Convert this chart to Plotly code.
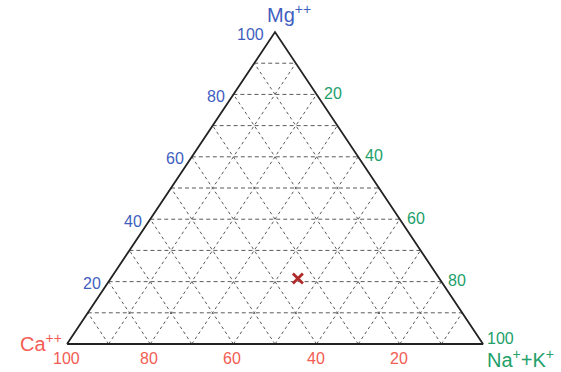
import plotly.graph_objects as go

# sample composition (percent of cations)
sample_ca = [34]
sample_mg = [21]
sample_nak = [45]

grid_steps = [10, 20, 30, 40, 50, 60, 70, 80, 90]
tick_values = [20, 40, 60, 80, 100]

BLUE = "#3f5fc0"
GREEN = "#22a06a"
RED = "#f25c54"
FONT = "Liberation Sans, Arial, sans-serif"


def to_xy(ca, mg, nak):
    s = ca + mg + nak
    return 100 * (nak + mg / 2) / s, 100 * mg / s


def segments(pairs):
    xs, ys = [], []
    for a, b in pairs:
        xa, ya = to_xy(*a)
        xb, yb = to_xy(*b)
        xs += [xa, xb, None]
        ys += [ya, yb, None]
    return xs, ys


fig = go.Figure()

# horizontal lines (constant Mg)
hx, hy = segments([((100 - v, v, 0), (0, v, 100 - v)) for v in grid_steps])
fig.add_trace(go.Scatter(x=hx, y=hy, mode="lines", hoverinfo="skip",
                         line=dict(color="#5a5a5a", width=1, dash="4px,3px")))

# lines of constant Na+K and constant Ca
dx1, dy1 = segments([((100 - v, 0, v), (0, 100 - v, v)) for v in grid_steps])
dx2, dy2 = segments([((v, 0, 100 - v), (v, 100 - v, 0)) for v in grid_steps])
fig.add_trace(go.Scatter(x=dx1 + dx2, y=dy1 + dy2, mode="lines", hoverinfo="skip",
                         line=dict(color="#5a5a5a", width=1, dash="3px,3px")))

# outline
ox, oy = zip(*[to_xy(*c) for c in [(100, 0, 0), (0, 100, 0), (0, 0, 100), (100, 0, 0)]])
fig.add_trace(go.Scatter(x=list(ox), y=list(oy), mode="lines", hoverinfo="skip",
                         line=dict(color="#222222", width=1.8)))

# sample point
sx, sy = zip(*[to_xy(c, m, n) for c, m, n in zip(sample_ca, sample_mg, sample_nak)])
fig.add_trace(go.Scatter(x=list(sx), y=list(sy), mode="markers",
                         marker=dict(symbol="x-thin", size=10, color="#b02a2a",
                                     line=dict(width=2.8, color="#b02a2a"))))

annotations = []
for t in tick_values:
    x, y = to_xy(100 - t, t, 0)
    annotations.append(dict(x=x, y=y, text=str(t), xanchor="right", yanchor="middle",
                            xshift=-6 if t < 100 else -9, yshift=-2,
                            font=dict(color=BLUE, size=16)))
    x, y = to_xy(0, 100 - t, t)
    annotations.append(dict(x=x, y=y, text=str(t), xanchor="left", yanchor="middle",
                            xshift=5 if t < 100 else 2, yshift=1 if t < 100 else 6,
                            font=dict(color=GREEN, size=16)))
    x, y = to_xy(t, 0, 100 - t)
    annotations.append(dict(x=x, y=y, text=str(t), xanchor="center", yanchor="top",
                            xshift=-1, yshift=-4, font=dict(color=RED, size=16)))

x, y = to_xy(0, 100, 0)
annotations.append(dict(x=x, y=y, text="Mg<sup>++</sup>", xanchor="center", yanchor="bottom",
                        xshift=14, yshift=4, font=dict(color=BLUE, size=20)))
x, y = to_xy(100, 0, 0)
annotations.append(dict(x=x, y=y, text="Ca<sup>++</sup>", xanchor="right", yanchor="middle",
                        xshift=-3, yshift=2, font=dict(color=RED, size=20)))
x, y = to_xy(0, 0, 100)
annotations.append(dict(x=x, y=y, text="Na<sup>+</sup>+K<sup>+</sup>", xanchor="left",
                        yanchor="top", xshift=2, yshift=0, font=dict(color=GREEN, size=20)))

for a in annotations:
    a.update(xref="x", yref="y", showarrow=False)

fig.update_layout(
    width=561, height=372, autosize=False,
    margin=dict(l=0, r=0, t=0, b=0),
    paper_bgcolor="white", plot_bgcolor="white",
    showlegend=False,
    font=dict(family=FONT),
    annotations=annotations,
    xaxis=dict(range=[-16.11, 118.75], visible=False, fixedrange=True),
    yaxis=dict(range=[-8.97, 110.26], visible=False, fixedrange=True),
)

# drop the page's default body margin so the figure fills the window
fig.write_html("out.html", config={"displayModeBar": False},
               post_script="document.body.style.margin = '0';")
